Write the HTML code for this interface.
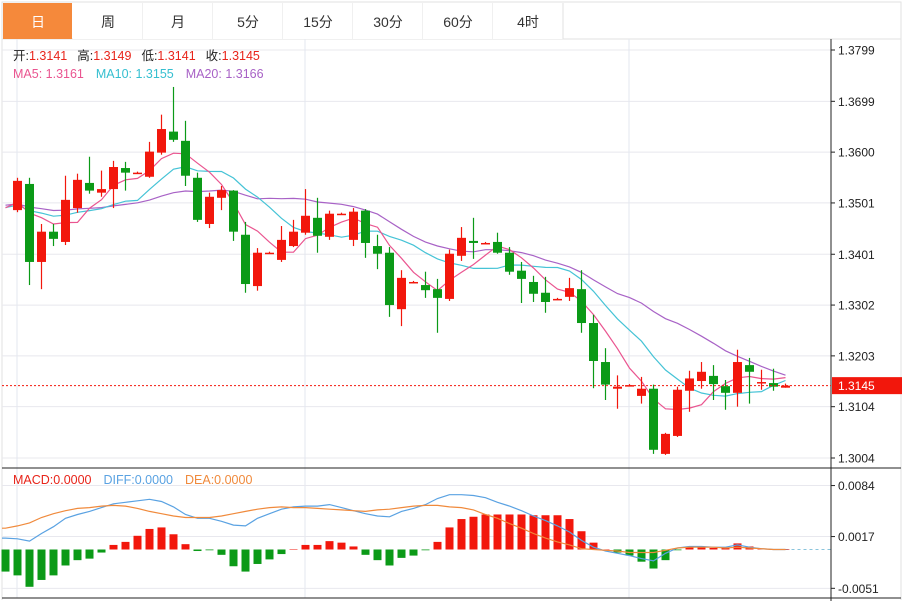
<!DOCTYPE html>
<html><head><meta charset="utf-8">
<style>
body{margin:0;background:#fff;width:908px;height:601px;overflow:hidden;font-family:"Liberation Sans","Noto Sans CJK SC",sans-serif}
svg{position:absolute;left:0;top:0}
</style></head><body>
<svg id="c" width="908" height="601" xmlns="http://www.w3.org/2000/svg" font-family="Liberation Sans, Noto Sans CJK SC, sans-serif"></svg>
<script>
const tabLabels=["日","周","月","5分","15分","30分","60分","4时"];
const priceTicks=[1.3799,1.3699,1.3600,1.3501,1.3401,1.3302,1.3203,1.3104,1.3004];
const macdTicks=[0.0084,0.0017,-0.0051];
const priorCloses=[1.3510,1.3505,1.3500,1.3498,1.3495,1.3500,1.3502,1.3505,1.3500,1.3498,1.3495,1.3492,1.3490,1.3488,1.3490,1.3492,1.3490,1.3492,1.3494];
const opens=[1.3487,1.3538,1.3386,1.3445,1.3425,1.3491,1.3540,1.3521,1.3528,1.3569,1.3560,1.3552,1.3599,1.3640,1.3622,1.3550,1.3460,1.3511,1.3525,1.3439,1.3339,1.3404,1.3390,1.3417,1.3443,1.3472,1.3435,1.3480,1.3429,1.3486,1.3417,1.3404,1.3294,1.3347,1.3341,1.3333,1.3314,1.3398,1.3427,1.3423,1.3425,1.3404,1.3369,1.3347,1.3326,1.3314,1.3318,1.3333,1.3267,1.3191,1.3139,1.3146,1.3125,1.3139,1.3012,1.3047,1.3135,1.3154,1.3164,1.3144,1.3131,1.3185,1.3150,1.3150,1.3141];
const closes=[1.3544,1.3386,1.3445,1.3431,1.3507,1.3546,1.3525,1.3528,1.3571,1.3560,1.3560,1.3601,1.3645,1.3624,1.3554,1.3468,1.3513,1.3526,1.3445,1.3343,1.3404,1.3404,1.3429,1.3445,1.3476,1.3437,1.3480,1.3480,1.3484,1.3423,1.3402,1.3302,1.3355,1.3347,1.3331,1.3316,1.3402,1.3433,1.3423,1.3423,1.3404,1.3367,1.3353,1.3324,1.3308,1.3314,1.3335,1.3267,1.3193,1.3147,1.3143,1.3146,1.3139,1.3020,1.3051,1.3137,1.3159,1.3172,1.3148,1.3131,1.3191,1.3172,1.3152,1.3143,1.3145];
const highs=[1.3550,1.3550,1.3460,1.3460,1.3554,1.3558,1.3591,1.3564,1.3583,1.3581,1.3562,1.3620,1.3673,1.3727,1.3661,1.3560,1.3521,1.3534,1.3526,1.3464,1.3413,1.3406,1.3456,1.3468,1.3528,1.3511,1.3486,1.3482,1.3491,1.3489,1.3439,1.3415,1.3370,1.3349,1.3367,1.3353,1.3410,1.3454,1.3472,1.3425,1.3443,1.3415,1.3386,1.3359,1.3357,1.3316,1.3355,1.3370,1.3283,1.3218,1.3165,1.3148,1.3162,1.3147,1.3053,1.3143,1.3174,1.3191,1.3185,1.3156,1.3215,1.3199,1.3176,1.3178,1.3149];
const lows=[1.3483,1.3341,1.3333,1.3417,1.3419,1.3482,1.3519,1.3513,1.3491,1.3525,1.3558,1.3550,1.3595,1.3620,1.3534,1.3464,1.3452,1.3487,1.3427,1.3326,1.3330,1.3402,1.3386,1.3415,1.3439,1.3404,1.3429,1.3478,1.3417,1.3394,1.3372,1.3279,1.3261,1.3345,1.3316,1.3248,1.3310,1.3388,1.3392,1.3421,1.3402,1.3361,1.3306,1.3308,1.3287,1.3312,1.3310,1.3248,1.3140,1.3117,1.3100,1.3144,1.3110,1.3012,1.3010,1.3045,1.3094,1.3139,1.3117,1.3098,1.3104,1.3110,1.3137,1.3135,1.3141];
const macdHist=[-0.0029,-0.0034,-0.0049,-0.0040,-0.0034,-0.0021,-0.0014,-0.0012,-0.0004,0.0006,0.0010,0.0018,0.0027,0.0029,0.0020,0.0007,-0.0002,-0.0001,-0.0007,-0.0022,-0.0029,-0.0019,-0.0013,-0.0006,0.0000,0.0006,0.0006,0.0011,0.0009,0.0004,-0.0007,-0.0014,-0.0021,-0.0011,-0.0008,-0.0001,0.0010,0.0029,0.0040,0.0043,0.0046,0.0046,0.0046,0.0046,0.0045,0.0045,0.0045,0.0040,0.0024,0.0009,0.0000,-0.0004,-0.0008,-0.0016,-0.0025,-0.0014,-0.0001,0.0004,0.0003,0.0002,0.0002,0.0008,0.0004,0.0001,0.0000,0.0000];
const diffLine=[0.0015,0.0014,0.0011,0.0021,0.0030,0.0041,0.0046,0.0050,0.0055,0.0060,0.0062,0.0064,0.0066,0.0063,0.0056,0.0046,0.0041,0.0041,0.0037,0.0032,0.0031,0.0041,0.0047,0.0053,0.0056,0.0057,0.0057,0.0059,0.0055,0.0051,0.0047,0.0044,0.0043,0.0050,0.0054,0.0059,0.0067,0.0072,0.0072,0.0071,0.0068,0.0062,0.0057,0.0051,0.0044,0.0038,0.0031,0.0023,0.0012,0.0003,-0.0002,-0.0005,-0.0008,-0.0012,-0.0015,-0.0005,0.0002,0.0004,0.0004,0.0003,0.0003,0.0006,0.0003,0.0001,0.0000,0.0000];
const deaLine=[0.0028,0.0031,0.0035,0.0042,0.0047,0.0051,0.0054,0.0055,0.0057,0.0058,0.0057,0.0054,0.0050,0.0047,0.0044,0.0042,0.0042,0.0042,0.0044,0.0047,0.0050,0.0053,0.0055,0.0056,0.0055,0.0055,0.0054,0.0053,0.0052,0.0051,0.0050,0.0052,0.0053,0.0055,0.0057,0.0058,0.0058,0.0056,0.0055,0.0052,0.0046,0.0041,0.0034,0.0028,0.0021,0.0015,0.0010,0.0006,0.0001,0.0000,-0.0001,-0.0002,-0.0004,-0.0004,-0.0004,-0.0001,0.0002,0.0003,0.0003,0.0003,0.0002,0.0003,0.0002,0.0001,0.0000,0.0000];

const NS="http://www.w3.org/2000/svg";
const svg=document.getElementById('c');
function mk(tag,attrs,parent){const e=document.createElementNS(NS,tag);for(const k in attrs)e.setAttribute(k,attrs[k]);(parent||svg).appendChild(e);return e;}
const RED="#f2170c",GREEN="#0b9a17";
const yP=p=>50+(1.3799-p)*(408/0.0795);
const xC=i=>17.5+12*i;
const xM=i=>5.5+12*i;
const yM=v=>549.5-v*7612;

mk('rect',{x:2,y:2,width:899,height:37,fill:'#fff',stroke:'#e2e2e2'});
tabLabels.forEach((t,i)=>{
  const g=mk('g',{});
  
  
  const x=3+i*70;
  mk('rect',{x:x,y:3,width:i==0?69:70,height:36,fill:i==0?'#f5893b':'#fff'},g);
  if(i>0) mk('line',{x1:x+70,y1:3,x2:x+70,y2:39,stroke:'#e2e2e2'},g);
  const tx=mk('text',{x:x+35,y:27,'font-size':14,'text-anchor':'middle',fill:i==0?'#fff':'#333'},g);
  tx.textContent=t;
});
mk('line',{x1:2,y1:39,x2:2,y2:600,stroke:'#e2e2e2'});
mk('line',{x1:901,y1:39,x2:901,y2:600,stroke:'#e2e2e2'});

const grid=mk('g',{});


priceTicks.forEach(p=>{mk('line',{x1:2,y1:yP(p),x2:831,y2:yP(p),stroke:'#e8e8ee'},grid);});
[17,305,629].forEach(x=>{mk('line',{x1:x,y1:39,x2:x,y2:598,stroke:'#e3e7ef'},grid);});
macdTicks.forEach(v=>{mk('line',{x1:2,y1:yM(v),x2:831,y2:yM(v),stroke:'#e8e8ee'},grid);});

mk('line',{x1:831,y1:39,x2:831,y2:601,stroke:'#222'});
mk('line',{x1:2,y1:468,x2:901,y2:468,stroke:'#222'});
mk('line',{x1:2,y1:598,x2:901,y2:598,stroke:'#222'});
const pax=mk('g',{});


priceTicks.forEach(p=>{
  mk('line',{x1:831,y1:yP(p),x2:835,y2:yP(p),stroke:'#222'},pax);
  const t=mk('text',{x:838,y:yP(p)+4.5,'font-size':12,fill:'#222'},pax);t.textContent=p.toFixed(4);
});
const max=mk('g',{});


macdTicks.forEach(v=>{
  mk('line',{x1:831,y1:yM(v),x2:835,y2:yM(v),stroke:'#222'},max);
  const t=mk('text',{x:838,y:yM(v)+4.5,'font-size':12,fill:'#222'},max);t.textContent=v.toFixed(4);
});

const allCloses=priorCloses.concat(closes);
const off=priorCloses.length;
function ma(n){const out=[];for(let i=off-1;i<allCloses.length;i++){const s=allCloses.slice(Math.max(0,i-n+1),i+1);out.push(s.reduce((a,b)=>a+b,0)/s.length);}return out;}
[[20,'#a862c6','ma20-line'],[10,'#45c3d6','ma10-line'],[5,'#ea5590','ma5-line']].forEach(([n,col,name])=>{
  const v=ma(n);
  const pts=v.map((p,k)=>xC(k-1)+','+yP(p).toFixed(1)).join(' ');
  const l=mk('polyline',{points:pts,fill:'none',stroke:col,'stroke-width':1.2});
  
  
});

const cg=mk('g',{});


opens.forEach((o,i)=>{
  const c=closes[i],col=c>=o?RED:GREEN,x=xC(i);
  const g=mk('g',{},cg);
  
  
  mk('line',{x1:x,y1:yP(highs[i]),x2:x,y2:yP(lows[i]),stroke:col,'stroke-width':1.2},g);
  const t=Math.min(yP(o),yP(c)),h=Math.max(1.5,Math.abs(yP(o)-yP(c)));
  mk('rect',{x:x-4.5,y:t,width:9,height:h,fill:col},g);
});

const last=closes[closes.length-1];
const cl=mk('line',{x1:2,y1:yP(last),x2:831,y2:yP(last),stroke:RED,'stroke-dasharray':'2,2'});


const lb=mk('g',{});


mk('rect',{x:832,y:yP(last)-8.5,width:70,height:17,fill:RED},lb);
const lt=mk('text',{x:838,y:yP(last)+4.5,'font-size':12,fill:'#fff'},lb);lt.textContent=last.toFixed(4);

const zl=mk('line',{x1:xM(macdHist.length-1),y1:yM(0),x2:831,y2:yM(0),stroke:'#8ac4dc','stroke-dasharray':'3,3'});


const hg=mk('g',{});


macdHist.forEach((v,i)=>{
  const y0=yM(0),y1=yM(v);
  const r=mk('rect',{x:xM(i)-4,y:Math.min(y0,y1),width:8,height:Math.max(0.5,Math.abs(y1-y0)),fill:v>=0?RED:GREEN},hg);
  
  
});
[[diffLine,'#5aa2e2','diff-line'],[deaLine,'#f08a3c','dea-line']].forEach(([arr,col,name])=>{
  const l=mk('polyline',{points:'2,'+yM(arr[0]).toFixed(1)+' '+arr.map((v,i)=>xM(i)+','+yM(v).toFixed(1)).join(' '),fill:'none',stroke:col,'stroke-width':1.2});
  
  
});
</script>
<svg width="908" height="601" style="pointer-events:none" font-family="Liberation Sans, Noto Sans CJK SC, sans-serif" font-size="12.5">
 <g>
  <text x="13" y="60"><tspan fill="#222">开:</tspan><tspan fill="#e8241a">1.3141</tspan><tspan fill="#222" dx="10">高:</tspan><tspan fill="#e8241a">1.3149</tspan><tspan fill="#222" dx="10">低:</tspan><tspan fill="#e8241a">1.3141</tspan><tspan fill="#222" dx="10">收:</tspan><tspan fill="#e8241a">1.3145</tspan></text>
 </g>
 <g>
  <text x="13" y="78"><tspan fill="#ea5590">MA5: 1.3161</tspan><tspan fill="#35bfd0" dx="12">MA10: 1.3155</tspan><tspan fill="#a862c6" dx="12">MA20: 1.3166</tspan></text>
 </g>
 <g>
  <text x="13" y="484"><tspan fill="#e8241a">MACD:0.0000</tspan><tspan fill="#5aa2e2" dx="12">DIFF:0.0000</tspan><tspan fill="#f08a3c" dx="12">DEA:0.0000</tspan></text>
 </g>
</svg>
</body></html>
